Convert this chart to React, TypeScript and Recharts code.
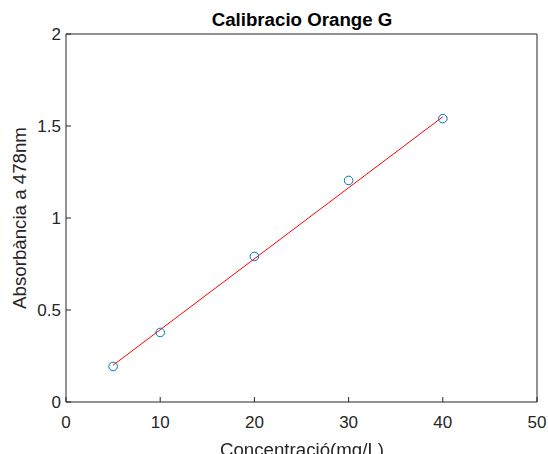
import { ComposedChart, Scatter, Line, XAxis, YAxis } from 'recharts';

// mesures de calibració
const concentracio = [5, 10, 20, 30, 40];
const absorbancia = [0.193, 0.378, 0.791, 1.204, 1.54];

// recta d'ajust (extrems llegits del gràfic)
const ajustX = [5, 40];
const ajustY = [0.2, 1.55];

const xTicks = [0, 10, 20, 30, 40, 50];
const yTicks = [0, 0.5, 1, 1.5, 2];

const punts = concentracio.map((x, i) => ({ x, y: absorbancia[i] }));
const recta = ajustX.map((x, i) => ({ x, y: ajustY[i] }));

const FONT = '"Liberation Sans", Arial, sans-serif';
const AXIS = '#262626';
const TICK = 5;

// ticks cap a dins, estil MATLAB
const TickBaix = (p: any) => (
  <g>
    <line x1={p.x} y1={p.y} x2={p.x} y2={p.y - TICK} stroke={AXIS} />
    <text x={p.x} y={p.y + 26} textAnchor="middle" fontSize={17} fill={AXIS} fontFamily={FONT}>
      {p.payload.value}
    </text>
  </g>
);
const TickEsquerra = (p: any) => (
  <g>
    <line x1={p.x} y1={p.y} x2={p.x + TICK} y2={p.y} stroke={AXIS} />
    <text x={p.x - 5} y={p.y + 6} textAnchor="end" fontSize={17} fill={AXIS} fontFamily={FONT}>
      {p.payload.value}
    </text>
  </g>
);
const TickDalt = (p: any) => <line x1={p.x} y1={p.y} x2={p.x} y2={p.y + TICK} stroke={AXIS} />;
const TickDreta = (p: any) => <line x1={p.x} y1={p.y} x2={p.x - TICK} y2={p.y} stroke={AXIS} />;

const Cercle = (props: any) => {
  const { cx, cy } = props;
  if (cx == null || cy == null) return null;
  return <circle cx={cx} cy={cy} r={4.3} fill="none" stroke="#0072BD" strokeWidth={1} />;
};

export default function App() {
  return (
    <div style={{ position: 'fixed', left: 0, top: 0, width: 548, height: 454, background: '#fff', fontFamily: FONT }}>
      <ComposedChart width={548} height={454} margin={{ top: 33, right: 10, bottom: 0, left: 0 }}>
        <XAxis
          xAxisId="b"
          dataKey="x"
          type="number"
          domain={[0, 50]}
          ticks={xTicks}
          height={52}
          tickSize={0}
          tickMargin={0}
          tickLine={false}
          tick={TickBaix}
          stroke={AXIS}
          allowDataOverflow
        />
        <XAxis
          xAxisId="t"
          dataKey="x"
          type="number"
          orientation="top"
          domain={[0, 50]}
          ticks={xTicks}
          height={1}
          tickSize={0}
          tickMargin={0}
          tickLine={false}
          tick={TickDalt}
          stroke={AXIS}
        />
        <YAxis
          yAxisId="l"
          dataKey="y"
          type="number"
          domain={[0, 2]}
          ticks={yTicks}
          width={66}
          tickSize={0}
          tickMargin={0}
          tickLine={false}
          tick={TickEsquerra}
          stroke={AXIS}
        />
        <YAxis
          yAxisId="r"
          dataKey="y"
          type="number"
          orientation="right"
          domain={[0, 2]}
          ticks={yTicks}
          width={1}
          tickSize={0}
          tickMargin={0}
          tickLine={false}
          tick={TickDreta}
          stroke={AXIS}
        />
        <Line
          xAxisId="b"
          yAxisId="l"
          data={recta}
          dataKey="y"
          stroke="#FF0000"
          strokeWidth={1}
          dot={false}
          isAnimationActive={false}
        />
        <Scatter
          xAxisId="b"
          yAxisId="l"
          data={punts}
          dataKey="y"
          shape={Cercle}
          isAnimationActive={false}
        />
      </ComposedChart>
      <div
        style={{
          position: 'absolute',
          left: 66,
          width: 472,
          top: 9,
          textAlign: 'center',
          fontWeight: 'bold',
          fontSize: 18.7,
          lineHeight: '22px',
          color: '#000',
        }}
      >
        Calibracio Orange G
      </div>
      <div
        style={{
          position: 'absolute',
          left: 66,
          width: 472,
          top: 439,
          textAlign: 'center',
          fontSize: 18.7,
          lineHeight: '22px',
          color: AXIS,
          whiteSpace: 'nowrap',
        }}
      >
        Concentració(mg/L)
      </div>
      <div
        style={{
          position: 'absolute',
          left: 20 - 120,
          top: 218 - 11,
          width: 240,
          height: 22,
          lineHeight: '22px',
          textAlign: 'center',
          fontSize: 18.7,
          color: AXIS,
          transform: 'rotate(-90deg)',
          whiteSpace: 'nowrap',
        }}
      >
        Absorbància a 478nm
      </div>
    </div>
  );
}
